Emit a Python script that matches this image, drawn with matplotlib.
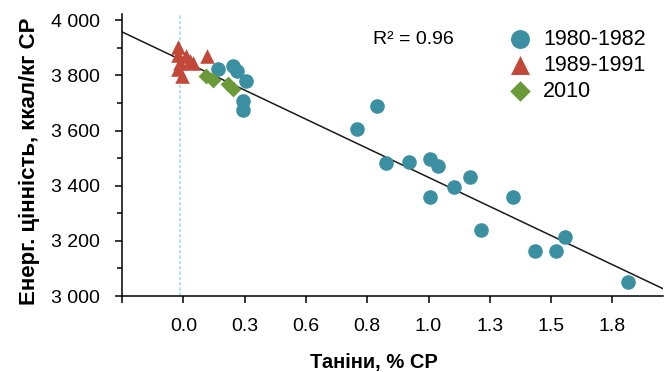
import matplotlib
matplotlib.use('Agg')
from matplotlib import pyplot as plt
from matplotlib.ticker import MultipleLocator

plt.rcParams['font.family'] = ['Liberation Sans', 'DejaVu Sans']

# 1980-1982
blue_x = [0.147, 0.207, 0.224, 0.262, 0.249, 0.249, 0.730, 0.811, 0.850, 0.948,
          1.035, 1.068, 1.036, 1.135, 1.204, 1.249, 1.383, 1.475, 1.563, 1.602, 1.864]
blue_y = [3822, 3834, 3816, 3780, 3708, 3673, 3607, 3688, 3484, 3485,
          3496, 3473, 3360, 3394, 3431, 3238, 3360, 3163, 3163, 3214, 3049]

# 1989-1991
red_x = [-0.022, -0.022, 0.011, -0.014, 0.028, 0.040, -0.022, -0.005, 0.099]
red_y = [3905, 3876, 3869, 3847, 3851, 3845, 3822, 3797, 3869]

# 2010
green_x = [0.095, 0.125, 0.187, 0.208]
green_y = [3797, 3783, 3768, 3750]

# regression line
fit_slope = -410.5
fit_intercept = 3852.5
r2_text = 'R² = 0.96'

tick_step = 1.8 / 7
xtick_labels = ['', '0.0', '0.3', '0.6', '0.8', '1.0', '1.3', '1.5', '1.8']
ytick_values = [3000, 3200, 3400, 3600, 3800, 4000]
ytick_labels = ['3 000', '3 200', '3 400', '3 600', '3 800', '4 000']

c_blue = '#3a8fa1'
c_red = '#c2483a'
c_green = '#6b9a3a'

fig = plt.figure(figsize=(6.65, 3.72), dpi=100)
ax = fig.add_axes([0.1835, 0.2043, 0.8135, 0.7581])

x0, x1 = -tick_step, 2.012
ax.set_xlim(x0, x1)
ax.set_ylim(3000, 4023)

ax.axvline(-0.014, color='#a8dcf5', lw=1.2, ls=(0, (2, 1.2)), zorder=1)
ax.plot([x0, x1], [fit_intercept + fit_slope * x0, fit_intercept + fit_slope * x1],
        color='#1a1a1a', lw=1.1, zorder=2)

ax.scatter(blue_x, blue_y, s=110, marker='o', color=c_blue, lw=0, zorder=3, label='1980-1982')
ax.scatter(red_x, red_y, s=110, marker='^', color=c_red, lw=0, zorder=3, label='1989-1991')
ax.scatter(green_x, green_y, s=65, marker='D', color=c_green, lw=0, zorder=4, label='2010')

ax.text(0.797, 3932, r2_text, fontsize=14, va='center', ha='left')

ax.legend(loc='upper left', bbox_to_anchor=(0.687, 1.0), frameon=False, fontsize=15.5,
          handlelength=1.0, handletextpad=0.6, labelspacing=0.22, markerscale=1.3,
          borderaxespad=0.3)

ax.set_xticks([(i - 1) * tick_step for i in range(len(xtick_labels))])
ax.set_xticklabels(xtick_labels)
ax.set_yticks(ytick_values)
ax.set_yticklabels(ytick_labels)
ax.yaxis.set_minor_locator(MultipleLocator(100))

ax.tick_params(axis='both', which='major', labelsize=14, width=1.1, length=5)
ax.tick_params(axis='x', pad=10.5)
ax.tick_params(axis='y', pad=11)
ax.tick_params(axis='y', which='minor', width=1.1, length=3.5)

for side in ['top', 'right']:
    ax.spines[side].set_visible(False)
for side in ['left', 'bottom']:
    ax.spines[side].set_linewidth(1.1)

ax.set_xlabel('Таніни, % СР', fontsize=14.5, fontweight='bold', labelpad=13)
ax.xaxis.label.set_x(0.466)
ax.set_ylabel('Енерг. цінність, ккал/кг СР', fontsize=16, fontweight='bold', labelpad=8)
ax.yaxis.label.set_y(0.477)

fig.savefig('out.png', dpi=100)
